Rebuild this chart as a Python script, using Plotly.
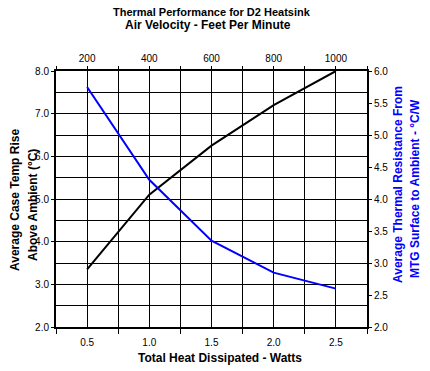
import plotly.graph_objects as go

# Data
watts = [0.5, 1.0, 1.5, 2.0, 2.5]
velocity_labels = ["200", "400", "600", "800", "1000"]
temp_rise = [3.35, 5.1, 6.25, 7.2, 8.0]
thermal_res = [5.75, 4.3, 3.35, 2.85, 2.6]

FONT = "Arial, Liberation Sans, sans-serif"

fig = go.Figure()
fig.add_trace(go.Scatter(x=watts, y=temp_rise, mode="lines",
                         line=dict(color="black", width=2), yaxis="y", xaxis="x",
                         showlegend=False, hoverinfo="skip"))
fig.add_trace(go.Scatter(x=watts, y=thermal_res, mode="lines",
                         line=dict(color="#0000FF", width=2), yaxis="y2", xaxis="x",
                         showlegend=False, hoverinfo="skip"))
# carrier for the top (air velocity) axis, draws nothing
fig.add_trace(go.Scatter(x=watts, y=temp_rise, mode="none", xaxis="x2", yaxis="y",
                         showlegend=False, hoverinfo="skip"))

L, R, T, B = 56, 63, 71, 44
W, H = 430, 371
pw, ph = W - L - R, H - T - B

def px(x):
    return (x - L) / pw

def py(y):
    return (H - B - y) / ph

tickfont = dict(family=FONT, size=10, color="black")

fig.update_layout(
    width=W, height=H,
    margin=dict(l=L, r=R, t=T, b=B, pad=0),
    paper_bgcolor="white", plot_bgcolor="white",
    showlegend=False,
    xaxis=dict(range=[0.25, 2.75], tickmode="linear", tick0=0.5, dtick=0.5,
               tickformat=".1f", ticks="outside", ticklen=5,
               tickcolor="rgba(0,0,0,0)", tickfont=tickfont,
               showgrid=True, gridcolor="black", gridwidth=1,
               minor=dict(tick0=0.25, dtick=0.25, ticks="outside", ticklen=5,
                          tickcolor="black", tickwidth=1,
                          showgrid=True, gridcolor="black", gridwidth=1),
               showline=True, linecolor="black", linewidth=2, mirror=True,
               zeroline=False, fixedrange=True),
    xaxis2=dict(range=[0.25, 2.75], overlaying="x", side="top", anchor="y",
                tickmode="array", tickvals=watts, ticktext=velocity_labels,
                ticks="outside", ticklen=4, tickcolor="rgba(0,0,0,0)",
                tickfont=tickfont, showgrid=False,
                minor=dict(tick0=0.25, dtick=0.25, ticks="outside", ticklen=4,
                           tickcolor="black", tickwidth=1, showgrid=False),
                showline=False, zeroline=False, fixedrange=True),
    yaxis=dict(range=[2, 8], tickmode="linear", tick0=2, dtick=1,
               tickformat=".1f", ticks="outside", ticklen=3, tickcolor="black",
               tickfont=tickfont,
               showgrid=True, gridcolor="black", gridwidth=1,
               minor=dict(dtick=0.5, showgrid=True, gridcolor="black", gridwidth=1),
               showline=True, linecolor="black", linewidth=2, mirror=True,
               zeroline=False, fixedrange=True),
    yaxis2=dict(range=[2, 6], overlaying="y", side="right", anchor="x",
                tickmode="linear", tick0=2, dtick=0.5, tickformat=".1f",
                ticks="outside", ticklen=4, tickcolor="black", tickfont=tickfont,
                showgrid=False, showline=False, zeroline=False, fixedrange=True),
)

ann = []
ann.append(dict(text="<b>Thermal Performance for D2 Heatsink</b>", x=px(212), y=py(12),
                font=dict(family=FONT, size=11, color="black")))
ann.append(dict(text="<b>Air Velocity - Feet Per Minute</b>", x=px(208), y=py(25),
                font=dict(family=FONT, size=12, color="black")))
ann.append(dict(text="<b>Total Heat Dissipated - Watts</b>", x=px(220), y=py(358),
                font=dict(family=FONT, size=12, color="black")))
ann.append(dict(text="<b>Average Case Temp Rise</b>", x=px(15), y=py(200), textangle=-90,
                font=dict(family=FONT, size=12, color="black")))
ann.append(dict(text="<b>Above Ambient (°C)</b>", x=px(33), y=py(205), textangle=-90,
                font=dict(family=FONT, size=12, color="black")))
ann.append(dict(text="<b>Average Thermal Resistance From</b>", x=px(398), y=py(184), textangle=-90,
                font=dict(family=FONT, size=12, color="#0000FF")))
ann.append(dict(text="<b>MTG Surface to Ambient - °C/W</b>", x=px(415), y=py(189), textangle=-90,
                font=dict(family=FONT, size=12, color="#0000FF")))
for a in ann:
    a.update(xref="paper", yref="paper", showarrow=False,
             xanchor="center", yanchor="middle")
fig.update_layout(annotations=ann)

fig.write_html("out.html", config={"displayModeBar": False},
               post_script="document.body.style.margin='0px';document.body.style.overflow='hidden';")
